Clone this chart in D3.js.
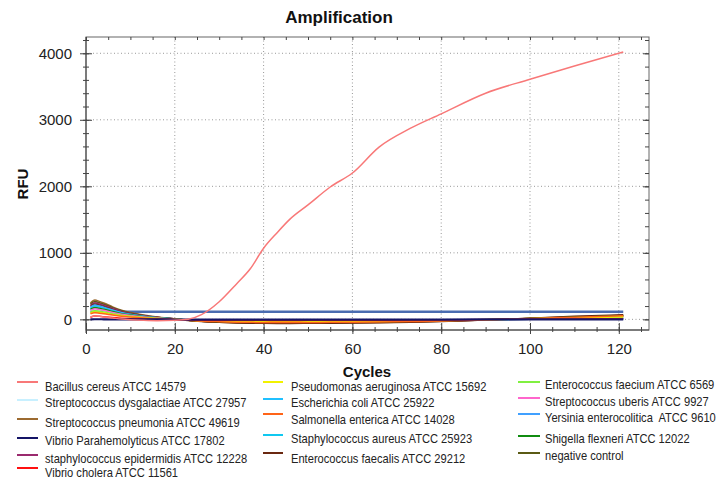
<!DOCTYPE html>
<html><head><meta charset="utf-8">
<script src="https://cdn.jsdelivr.net/npm/d3@7"></script>
<style>body{margin:0;background:#fff}text{font-family:"Liberation Sans",Arial,sans-serif}</style>
</head><body>
<svg id="c" width="720" height="483"></svg>
<script>
// ---------- DATA ----------
const cycles = [1,2,3,4,6,8,10,13,16,20,23,26,30,34,37,40,43,46,50,55,60,66,73,80,90,100,110,121];

const bacillusCereus      = [40,50,45,35,20,5,-5,-15,-20,-15,0,70,265,540,760,1070,1300,1510,1720,1990,2200,2590,2870,3090,3400,3610,3810,4020];
const strepDysgalactiae   = [119,140,130,119,91,67,50,31,17,3,-9,-18,-24,-28,-30,-31,-31,-31,-30,-29,-28,-25,-21,-16,-5,4,12,20];
const strepPneumonia      = [246,290,270,246,188,139,104,64,35,9,-15,-30,-42,-50,-55,-57,-58,-58,-57,-55,-52,-48,-40,-30,-10,15,38,60];
const vibrioParahem       = [0,2,2,1,1,0,0,-1,-1,-2,-3,-4,-5,-5,-5,-5,-5,-5,-5,-5,-5,-4,-4,-3,-1,0,0,0];
const staphEpidermidis    = [212,250,232,212,162,120,90,55,30,7,-12,-25,-36,-42,-45,-47,-48,-48,-47,-45,-43,-40,-34,-26,-8,10,28,45];
const vibrioCholera       = [30,50,45,38,28,18,10,3,-2,-5,-8,-12,-14,-15,-15,-15,-16,-16,-15,-15,-14,-13,-11,-8,-3,2,6,10];
const pseudomonas         = [94,110,102,94,72,53,40,24,13,2,-10,-20,-27,-32,-35,-36,-36,-36,-35,-34,-32,-29,-24,-18,-5,8,22,40];
const escherichiaColi     = [170,200,186,170,130,96,72,44,24,5,-10,-18,-22,-25,-25,-26,-26,-26,-25,-24,-23,-21,-18,-14,-6,0,5,10];
const salmonella          = [85,100,93,85,65,48,36,22,12,2,-12,-25,-35,-42,-45,-46,-47,-47,-46,-45,-43,-39,-32,-24,-6,12,32,55];
const staphAureus         = [145,170,158,145,110,82,61,37,20,4,-9,-16,-20,-22,-22,-23,-23,-23,-22,-22,-21,-19,-16,-12,-5,0,4,8];
const enteroFaecalis      = [195,230,214,195,150,110,83,50,27,6,-16,-32,-45,-54,-58,-60,-61,-61,-60,-58,-55,-50,-42,-32,-10,18,45,70];
const enteroFaecium       = [110,130,121,110,85,62,47,29,16,3,-9,-18,-24,-28,-30,-31,-31,-31,-30,-29,-27,-24,-20,-15,-3,8,20,35];
const strepUberis         = [136,160,149,136,104,77,58,35,19,4,-10,-20,-28,-33,-35,-36,-37,-37,-36,-35,-33,-30,-25,-19,-6,6,18,30];
const yersinia            = [183,215,200,183,140,103,77,47,25,5,-8,-15,-18,-20,-20,-21,-21,-21,-20,-20,-19,-17,-15,-12,-6,0,3,5];
const shigella            = [153,180,167,153,117,86,65,40,22,4,-12,-24,-32,-37,-40,-41,-42,-42,-41,-40,-38,-35,-29,-22,-5,12,32,55];
const negativeControl     = [230,270,250,228,175,130,97,59,32,8,-14,-28,-40,-47,-50,-52,-53,-53,-52,-50,-48,-44,-37,-28,-8,12,32,50];

const thresholdCycles = [1,121];
const thresholdValue = 114;

const seriesNames = [
  "Bacillus cereus ATCC 14579","Streptococcus dysgalactiae ATCC 27957","Streptococcus pneumonia ATCC 49619",
  "Vibrio Parahemolyticus ATCC 17802","staphylococcus epidermidis ATCC 12228","Vibrio cholera ATCC 11561",
  "Pseudomonas aeruginosa ATCC 15692","Escherichia coli ATCC 25922","Salmonella enterica ATCC 14028",
  "Staphylococcus aureus ATCC 25923","Enterococcus faecalis ATCC 29212",
  "Enterococcus faecium ATCC 6569","Streptococcus uberis ATCC 9927","Yersinia enterocolitica  ATCC 9610",
  "Shigella flexneri ATCC 12022","negative control"];
const seriesValues = [bacillusCereus,strepDysgalactiae,strepPneumonia,vibrioParahem,staphEpidermidis,vibrioCholera,
  pseudomonas,escherichiaColi,salmonella,staphAureus,enteroFaecalis,enteroFaecium,strepUberis,yersinia,shigella,negativeControl];
const seriesColors = ["#f87878","#c8f0ff","#9c6a30","#141466","#9a2a6e","#ff1010",
  "#f2f200","#20c0ff","#ff6418","#10c8f0","#6a2810","#80f040","#ff66cc","#40a0ff","#108c10","#5a5a14"];

const xMajor = [0,20,40,60,80,100,120];
const xMinor = d3.range(0,126,5);
const yMajor = [0,1000,2000,3000,4000];
const yMinor = d3.range(0,4201,200);

// ---------- LAYOUT ----------
const L = 86, R = 649, T = 37, B = 330;
const svg = d3.select("#c");
const x = d3.scaleLinear().domain([0,126.8]).range([L,R]);
const y = d3.scaleLinear().domain([-160,4245]).range([B,T]);

// grid
const g = svg.append("g");
g.selectAll(".gx").data(xMajor.filter(d=>d>0)).join("line")
  .attr("x1",d=>x(d)).attr("x2",d=>x(d)).attr("y1",T).attr("y2",B)
  .attr("stroke","#999").attr("stroke-dasharray","1,2.5");
g.selectAll(".gy").data(yMajor).join("line")
  .attr("x1",L).attr("x2",R).attr("y1",d=>y(d)).attr("y2",d=>y(d))
  .attr("stroke","#999").attr("stroke-dasharray","1,2.5");

// frame
svg.append("rect").attr("x",L).attr("y",T).attr("width",R-L).attr("height",B-T)
  .attr("fill","none").attr("stroke","#666").attr("stroke-width",1);

// axes
function styleAxis(sel){ sel.select(".domain").remove(); sel.selectAll("line").attr("stroke","#444"); }
const ax = svg.append("g").attr("transform",`translate(0,${B})`);
ax.call(d3.axisBottom(x).tickValues(xMajor).tickSize(4).tickPadding(9).tickFormat(d3.format("d"))).call(styleAxis);
ax.selectAll("text").attr("font-size",15).attr("fill","#222");
svg.append("g").attr("transform",`translate(0,${B})`).call(d3.axisTop(x).tickValues(xMajor).tickSize(7).tickFormat("")).call(styleAxis);
svg.append("g").attr("transform",`translate(0,${B})`).call(d3.axisBottom(x).tickValues(xMinor).tickSize(2).tickFormat("")).call(styleAxis);
svg.append("g").attr("transform",`translate(0,${B})`).call(d3.axisTop(x).tickValues(xMinor).tickSize(3).tickFormat("")).call(styleAxis);
svg.append("g").attr("transform",`translate(0,${T})`).call(d3.axisBottom(x).tickValues(xMinor).tickSize(3).tickFormat("")).call(styleAxis);
svg.append("line").attr("x1",L).attr("x2",R).attr("y1",B).attr("y2",B).attr("stroke","#444");

const ay = svg.append("g").attr("transform",`translate(${L},0)`);
ay.call(d3.axisLeft(y).tickValues(yMajor).tickSize(6).tickPadding(8).tickFormat(d3.format("d"))).call(styleAxis);
ay.selectAll("text").attr("font-size",15).attr("fill","#222");
svg.append("g").attr("transform",`translate(${L},0)`).call(d3.axisRight(y).tickValues(yMajor).tickSize(6).tickFormat("")).call(styleAxis);
svg.append("g").attr("transform",`translate(${L},0)`).call(d3.axisLeft(y).tickValues(yMinor).tickSize(3).tickFormat("")).call(styleAxis);
svg.append("g").attr("transform",`translate(${L},0)`).call(d3.axisRight(y).tickValues(yMinor).tickSize(3).tickFormat("")).call(styleAxis);
svg.append("g").attr("transform",`translate(${R},0)`).call(d3.axisLeft(y).tickValues(yMajor).tickSize(6).tickFormat("")).call(styleAxis);
svg.append("g").attr("transform",`translate(${R},0)`).call(d3.axisLeft(y).tickValues(yMinor).tickSize(4).tickFormat("")).call(styleAxis);
svg.append("line").attr("x1",L).attr("x2",L).attr("y1",T).attr("y2",B+3).attr("stroke","#444");

// titles
svg.append("text").attr("x",339).attr("y",23).attr("text-anchor","middle")
  .attr("font-size",17).attr("font-weight","bold").attr("fill","#111").text("Amplification");
svg.append("text").attr("x",367).attr("y",377).attr("text-anchor","middle")
  .attr("font-size",15).attr("font-weight","bold").attr("fill","#111").text("Cycles");
svg.append("text").attr("transform","translate(28,184) rotate(-90)").attr("text-anchor","middle")
  .attr("font-size",15).attr("font-weight","bold").attr("fill","#111").text("RFU");

// lines
const line = d3.line().x(d=>x(d[0])).y(d=>y(d[1])).curve(d3.curveMonotoneX);
svg.append("path").datum(thresholdCycles.map(c=>[c,thresholdValue]))
  .attr("d",line).attr("fill","none").attr("stroke","#4a6cb0").attr("stroke-width",2.5);
const order = [1,2,15,4,10,13,7,9,14,12,11,6,8,5,3,0];
order.forEach(i=>{
  svg.append("path").datum(cycles.map((c,k)=>[c,seriesValues[i][k]]))
    .attr("d",line).attr("fill","none").attr("stroke",seriesColors[i])
    .attr("stroke-width", i===3 ? 2.2 : 1.5);
});

// legend
const legendCols = [{lx:17, lw:21, tx:45, rows:[0,1,2,3,4,5]},
                    {lx:263, lw:20, tx:291, rows:[6,7,8,9,10]},
                    {lx:518, lw:22, tx:545, rows:[11,12,13,14,15]}];
const legendBase = [[391,407,427,445,463,477],[391,407,424,443,463],[389,406,422,443,460]];
const legendLine = [[382,400,419,438,455,468],[382,399,414,435,453],[382,398,414,436,453]];
const lg = svg.append("g");
// horizontal condensation so the legend font matches the narrow original typeface
const probe = lg.append("text").attr("font-size",12.5).text(seriesNames[0]);
const squeeze = Math.min(1, 141 / probe.node().getComputedTextLength());
probe.remove();
legendCols.forEach((col,ci)=>{
  col.rows.forEach((si,ri)=>{
    lg.append("line").attr("x1",col.lx).attr("x2",col.lx+col.lw)
      .attr("y1",legendLine[ci][ri]).attr("y2",legendLine[ci][ri])
      .attr("stroke",seriesColors[si]).attr("stroke-width",2);
    lg.append("text").attr("transform",`translate(${col.tx},${legendBase[ci][ri]}) scale(${squeeze},1)`)
      .attr("font-size",12.5).attr("fill","#222")
      .attr("xml:space","preserve").text(seriesNames[si]);
  });
});
</script>
</body></html>
